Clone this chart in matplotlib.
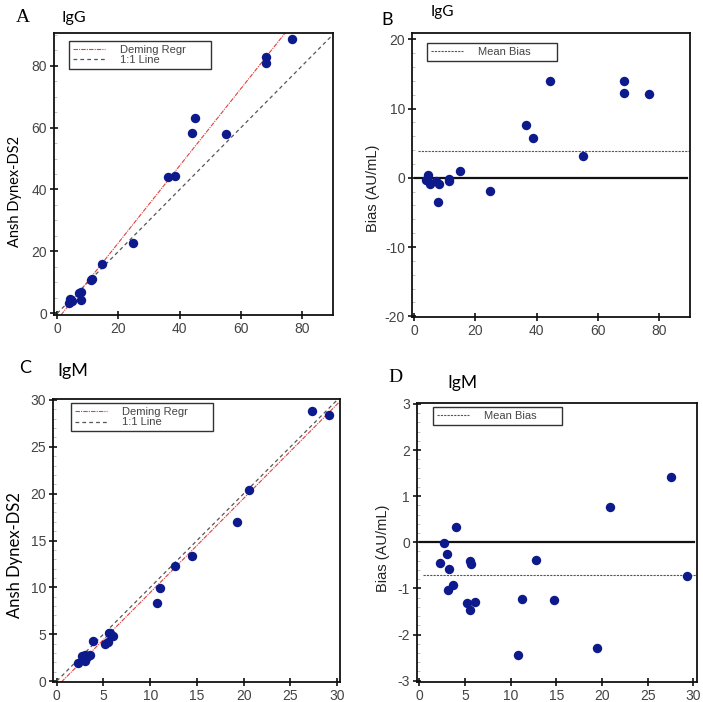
import matplotlib

matplotlib.use('Agg')  # 无显示环境
import matplotlib.pyplot as plt
from matplotlib.lines import Line2D
from matplotlib.ticker import MultipleLocator
import numpy as np

plt.rcParams['font.family'] = ['Liberation Sans', 'DejaVu Sans']
plt.rcParams['axes.unicode_minus'] = False  # 负号用普通连字符

# IgG: 方法比较 (A)
igg_x = [3.9, 4.2, 4.7, 5.0, 7.1, 7.9, 7.7, 11.1, 11.4, 14.6, 24.7, 36.2, 38.6,
         44.0, 45.0, 55.0, 68.3, 68.3, 76.5]
igg_y = [3.4, 4.8, 4.5, 4.0, 6.7, 7.0, 4.2, 10.9, 11.1, 15.9, 22.8, 44.0, 44.4,
         58.1, 63.2, 58.0, 80.8, 82.7, 88.7]
igg_deming = [1.245, -2.1]  # 斜率, 截距

# IgG: Bias (B)
igg_bias_x = [3.8, 4.2, 4.4, 5.1, 7.1, 8.1, 7.9, 11.5, 11.5, 15.0, 24.7, 36.4,
              38.8, 44.3, 55.0, 68.6, 68.6, 76.5]
igg_bias = [-0.34, -0.34, 0.39, -0.87, -0.48, -0.87, -3.52, -0.14, -0.48, 0.92,
            -1.93, 7.57, 5.69, 14.0, 3.13, 13.9, 12.2, 12.1]
igg_mean_bias = 3.9

# IgM: 方法比较 (C)
igm_x = [2.25, 2.65, 3.0, 3.05, 3.2, 3.6, 3.9, 5.15, 5.5, 5.6, 5.75, 6.05,
         10.7, 11.0, 12.6, 14.5, 19.3, 20.6, 27.3, 29.1]
igm_y = [1.9, 2.65, 2.75, 2.15, 2.55, 2.75, 4.25, 4.0, 4.15, 5.15, 5.1, 4.85,
         8.3, 9.9, 12.3, 13.3, 17.0, 20.4, 28.8, 28.4]
igm_deming = [1.005, -0.6]

# IgM: Bias (D)
igm_bias_x = [2.26, 2.7, 3.07, 3.1, 3.2, 3.7, 4.0, 5.2, 5.5, 5.6, 5.7, 6.1,
              10.8, 11.2, 12.8, 14.7, 19.5, 20.9, 27.6, 29.3]
igm_bias = [-0.46, -0.01, -0.25, -1.03, -0.59, -0.92, 0.33, -1.31, -0.40, -1.47,
            -0.48, -1.30, -2.45, -1.22, -0.39, -1.26, -2.30, 0.76, 1.42, -0.74]
igm_mean_bias = -0.72

W, H = 703, 702
DOT = '#0d1a8c'
TICK_C = '#444444'

fig = plt.figure(figsize=(W / 100, H / 100), dpi=100)


def px_axes(left, top, right, bottom):
    """根据像素位置创建坐标轴"""
    return fig.add_axes([left / W, 1 - bottom / H, (right - left) / W, (bottom - top) / H])


def style_axes(ax, xmajor, ymajor, yminor):
    for sp in ax.spines.values():
        sp.set_linewidth(1.3)
        sp.set_color('#111111')
    ax.xaxis.set_major_locator(MultipleLocator(xmajor))
    ax.yaxis.set_major_locator(MultipleLocator(ymajor))
    ax.yaxis.set_minor_locator(MultipleLocator(yminor))
    ax.tick_params(which='major', direction='inout', length=6, width=1.2,
                   labelsize=10, labelcolor=TICK_C, color='#111111', pad=2)
    ax.tick_params(which='minor', direction='in', length=2.5, width=0.5,
                   color='#aaaaaa', left=True, bottom=False)
    ax.tick_params(top=False, right=False)


def add_legend(ax, handles, labels, box):
    leg = ax.legend(handles, labels, loc='upper left', bbox_to_anchor=box,
                    mode='expand', borderaxespad=0, fontsize=8, labelcolor='#444444',
                    fancybox=False, edgecolor='#333333', framealpha=1,
                    handlelength=2.9, handletextpad=1.3, borderpad=0.35,
                    labelspacing=0.05)
    leg.get_frame().set_linewidth(1.0)


def compare_panel(ax, x, y, deming, xlim, ylim):
    ax.set_xlim(*xlim)
    ax.set_ylim(*ylim)
    # 1:1 线
    lim = np.array([0, max(xlim[1], ylim[1])])
    ax.plot(lim, lim, color='#555555', lw=0.9, ls=(0, (3, 2.5)))
    # Deming 回归线
    slope, icpt = deming
    xs = np.array([(ylim[0] - icpt) / slope, (ylim[1] - icpt) / slope])
    ax.plot(xs, slope * xs + icpt, color='#e04040', lw=0.8, ls=(0, (4, 1, 1, 1)))
    ax.scatter(x, y, s=46, color=DOT, zorder=5, linewidths=0)
    h = [Line2D([], [], color='#e04040', lw=0.8, ls=(0, (4, 1, 1, 1))),
         Line2D([], [], color='#555555', lw=0.9, ls=(0, (3, 2.5)))]
    return h


def bias_panel(ax, x, b, mean_b, xlim, ylim):
    ax.set_xlim(*xlim)
    ax.set_ylim(*ylim)
    ax.axhline(0, xmin=0.01, xmax=0.99, color='#111111', lw=1.6)
    ax.axhline(mean_b, xmin=0.02, color='#555555', lw=0.8, ls=(0, (2, 1)))
    ax.scatter(x, b, s=46, color=DOT, zorder=5, linewidths=0)
    return [Line2D([], [], color='#555555', lw=0.8, ls=(0, (2, 1)))]


# A
axA = px_axes(54, 33, 333, 315)
hA = compare_panel(axA, igg_x, igg_y, igg_deming, (-1, 90), (-0.5, 90.5))
style_axes(axA, 20, 20, 5)
add_legend(axA, hA, ['Deming Regr', '1:1 Line'], (0.054, 0.876, 0.509, 0.096))

# B
axB = px_axes(412, 33, 690, 317)
hB = bias_panel(axB, igg_bias_x, igg_bias, igg_mean_bias, (-0.7, 90), (-20.1, 20.9))
style_axes(axB, 20, 10, 2)
add_legend(axB, hB, ['Mean Bias'], (0.054, 0.908, 0.468, 0.057))

# C
axC = px_axes(53, 399, 340, 682)
hC = compare_panel(axC, igm_x, igm_y, igm_deming, (-0.4, 30.3), (-0.1, 30.1))
style_axes(axC, 5, 5, 1)
add_legend(axC, hC, ['Deming Regr', '1:1 Line'], (0.063, 0.887, 0.495, 0.099))

# D
axD = px_axes(417, 403, 697, 682)
hD = bias_panel(axD, igm_bias_x, igm_bias, igm_mean_bias, (-0.25, 30.4), (-3.03, 3.02))
style_axes(axD, 5, 1, 0.2)
add_legend(axD, hD, ['Mean Bias'], (0.057, 0.932, 0.461, 0.054))


def ftext(x, y, s, **kw):
    fig.text(x / W, 1 - y / H, s, ha='center', va='center', **kw)


# 面板标签
ftext(23, 18, 'A', fontsize=14, family='Liberation Serif')
ftext(74, 18, 'IgG', fontsize=11.5, family='Lato')
ftext(387, 20, 'B', fontsize=13, family='Lato')
ftext(442, 12, 'IgG', fontsize=11, family='Lato')
ftext(25, 368, 'C', fontsize=13, family='Lato')
ftext(73, 371, 'IgM', fontsize=13, family='Lato')
ftext(395, 377, 'D', fontsize=14, family='Liberation Serif')
ftext(462, 383, 'IgM', fontsize=12.5, family='Lato')

# 纵轴标题
ftext(15, 191, 'Ansh Dynex-DS2', fontsize=10.5, family='Lato', rotation=90)
ftext(15, 555, 'Ansh Dynex-DS2', fontsize=12, family='Lato', rotation=90)
ftext(373, 188, 'Bias (AU/mL)', fontsize=10.5, rotation=90, color='#222222')
ftext(383, 548, 'Bias (AU/mL)', fontsize=10.5, rotation=90, color='#222222')

fig.savefig('out.png', dpi=100)
